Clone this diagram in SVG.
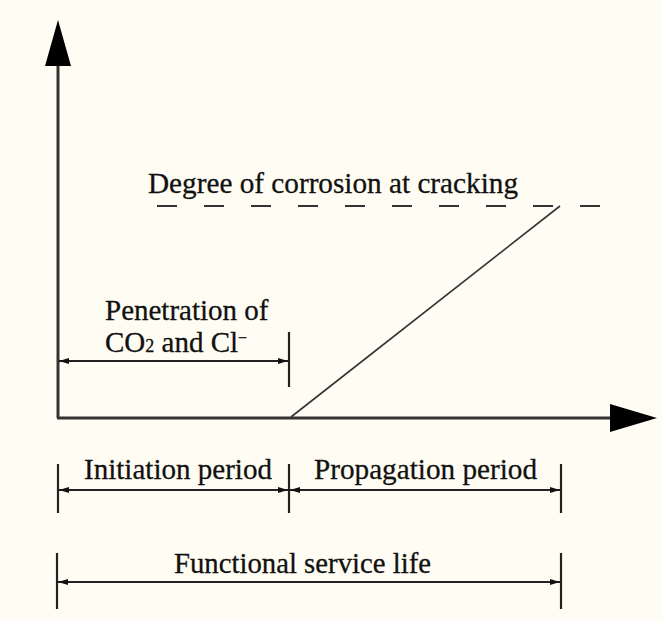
<svg xmlns="http://www.w3.org/2000/svg" width="662" height="620" viewBox="0 0 662 620">
<style>
.lbl{font-family:"Liberation Serif","Times New Roman",serif;font-size:30px;fill:#111;stroke:#111;stroke-width:0.3}
.axis{stroke:#333;stroke-width:3;fill:none}
.dim{stroke:#222;stroke-width:2;fill:none}
.tick{stroke:#222;stroke-width:2.2;fill:none}
</style>
<defs>
<marker id="ah" viewBox="0 0 10 8" refX="10" refY="4" markerWidth="10" markerHeight="8" markerUnits="userSpaceOnUse" orient="auto-start-reverse">
<path d="M0,1 L10,4 L0,7 Z" fill="#111"/>
</marker>
</defs>
<rect width="662" height="620" fill="#fffdf3"/>
<g id="axes">
<line class="axis" x1="58" y1="60" x2="58" y2="418"/>
<line class="axis" x1="57" y1="418" x2="612" y2="418"/>
<polygon points="58,20 71,66 45,66" fill="#000"/>
<polygon points="657,418 610,404 610,432" fill="#000"/>
</g>
<g id="cracking-level">
<line x1="157" y1="206" x2="605" y2="206" stroke="#333" stroke-width="2" stroke-dasharray="20,27"/>
<text class="lbl" x="148" y="193" textLength="370" lengthAdjust="spacingAndGlyphs">Degree of corrosion at cracking</text>
</g>
<g id="corrosion-curve">
<line x1="291" y1="417" x2="560" y2="206" stroke="#333" stroke-width="1.6"/>
</g>
<g id="penetration">
<text class="lbl" style="font-size:29px"><tspan x="105" y="320">Penetration of</tspan><tspan x="105" y="352">CO<tspan font-size="18">2</tspan> and Cl<tspan font-size="16" dy="-9">−</tspan></tspan></text>
</g>
<g id="initiation">
<text class="lbl" x="84" y="479" textLength="188" lengthAdjust="spacingAndGlyphs">Initiation period</text>
</g>
<g id="propagation">
<text class="lbl" x="314" y="479" textLength="223" lengthAdjust="spacingAndGlyphs">Propagation period</text>
</g>
<g id="service-life">
<text class="lbl" x="174" y="573" textLength="257" lengthAdjust="spacingAndGlyphs">Functional service life</text>
</g>
<g id="connectors">
<line class="tick" x1="289" y1="332" x2="289" y2="387"/>
<line class="dim" x1="59" y1="361" x2="288" y2="361" marker-start="url(#ah)" marker-end="url(#ah)"/>
<line class="tick" x1="58" y1="464" x2="58" y2="513"/>
<line class="tick" x1="289" y1="464" x2="289" y2="513"/>
<line class="tick" x1="561" y1="464" x2="561" y2="513"/>
<line class="dim" x1="59" y1="490" x2="288" y2="490" marker-start="url(#ah)" marker-end="url(#ah)"/>
<line class="dim" x1="290" y1="490" x2="560" y2="490" marker-start="url(#ah)" marker-end="url(#ah)"/>
<line class="tick" x1="57" y1="553" x2="57" y2="609"/>
<line class="tick" x1="561" y1="553" x2="561" y2="609"/>
<line class="dim" x1="58" y1="582" x2="560" y2="582" marker-start="url(#ah)" marker-end="url(#ah)"/>
</g>
</svg>
